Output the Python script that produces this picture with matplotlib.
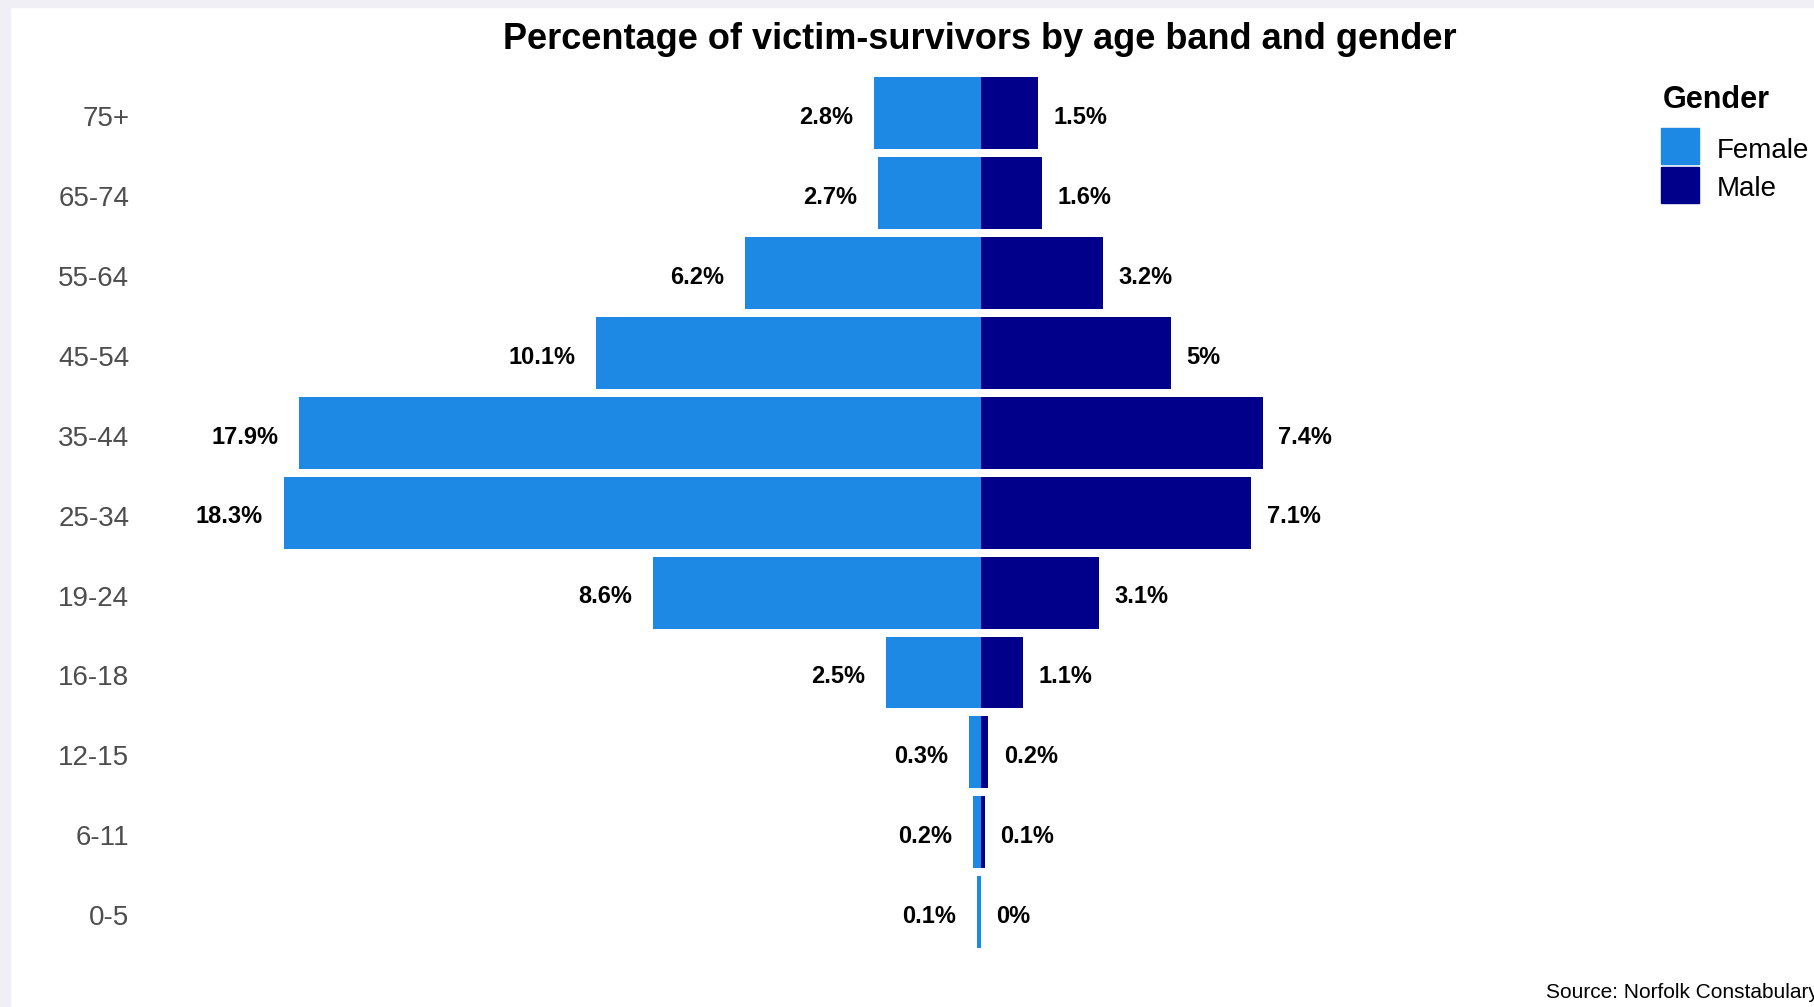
"""
    Population pyramid of victim-survivors by age band and gender.
"""
# Modules:
import matplotlib
matplotlib.use("Agg")
import matplotlib.pyplot as plt
from matplotlib.patches import Rectangle
from matplotlib.transforms import ScaledTranslation

plt.rcParams['font.family'] = ['Liberation Sans', 'DejaVu Sans']

# Data:
age_bands = ["0-5", "6-11", "12-15", "16-18", "19-24", "25-34",
             "35-44", "45-54", "55-64", "65-74", "75+"]
female = [0.1, 0.2, 0.3, 2.5, 8.6, 18.3, 17.9, 10.1, 6.2, 2.7, 2.8]
male = [0.0, 0.1, 0.2, 1.1, 3.1, 7.1, 7.4, 5.0, 3.2, 1.6, 1.5]
genders = ["Female", "Male"]
colours = ["#1E88E5", "#00008B"]

W, H = 1814, 1007


def fmt(v):
    """ Format like R: drop trailing .0 """
    s = ("%.1f" % v).rstrip('0').rstrip('.')
    return s + "%"


def main():
    fig = plt.figure(figsize=(W / 100, H / 100), dpi=100)
    fig.patch.set_facecolor("white")

    # Grey strips around the screenshot edge:
    fig.patches.append(Rectangle((0, 0), 10 / W, 1, transform=fig.transFigure,
                                 color="#f0eff5", zorder=0))
    fig.patches.append(Rectangle((0, 1 - 7 / H), 1, 7 / H, transform=fig.transFigure,
                                 color="#f0eff5", zorder=0))

    left, right = 135, 1640
    top, bottom = 65.5, 960.0
    ax = fig.add_axes([left / W, 1 - bottom / H, (right - left) / W, (bottom - top) / H])
    ax.set_facecolor("none")

    y = list(range(1, len(age_bands) + 1))
    neg_female = [-v for v in female]
    ax.barh(y, neg_female, height=0.9, color=colours[0])
    ax.barh(y, male, height=0.9, color=colours[1])

    # Labels:
    for yi, f, m in zip(y, female, male):
        ax.annotate(fmt(f), (-f, yi), xytext=(-15, -3), textcoords="offset points",
                    ha="right", va="center", fontsize=17, fontweight="bold")
        ax.annotate(fmt(m), (m, yi), xytext=(11, -3), textcoords="offset points",
                    ha="left", va="center", fontsize=17, fontweight="bold")

    ax.set_xlim(-22.2, 17.3)
    ax.set_ylim(0.4, len(age_bands) + 0.6)
    ax.set_yticks(y)
    ax.set_yticklabels(age_bands, fontsize=20, color="#4d4d4d")
    ax.tick_params(axis="y", length=0, pad=4)
    shift = ScaledTranslation(0, -3 / 100, fig.dpi_scale_trans)
    for lab in ax.get_yticklabels():
        lab.set_transform(lab.get_transform() + shift)
    ax.set_xticks([])
    for s in ax.spines.values():
        s.set_visible(False)

    # Title:
    fig.text(980 / W, 1 - 39.5 / H, "Percentage of victim-survivors by age band and gender",
             ha="center", va="center", fontsize=26, fontweight="bold")

    # Legend:
    fig.text(1663 / W, 1 - 99.5 / H, "Gender", ha="left", va="center",
             fontsize=22, fontweight="bold")
    key_tops = [128, 167]
    for g, c, kt in zip(genders, colours, key_tops):
        fig.patches.append(Rectangle((1661 / W, 1 - (kt + 36) / H), 38 / W, 36 / H,
                                     transform=fig.transFigure, color=c))
        fig.text(1717 / W, 1 - (kt + 22.5) / H, g, ha="left", va="center", fontsize=20)

    # Caption:
    fig.text(1546 / W, 1 - 992 / H, "Source: Norfolk Constabulary", ha="left",
             va="center", fontsize=15)

    fig.savefig("out.png", dpi=100)


if __name__ == '__main__':
    main()
